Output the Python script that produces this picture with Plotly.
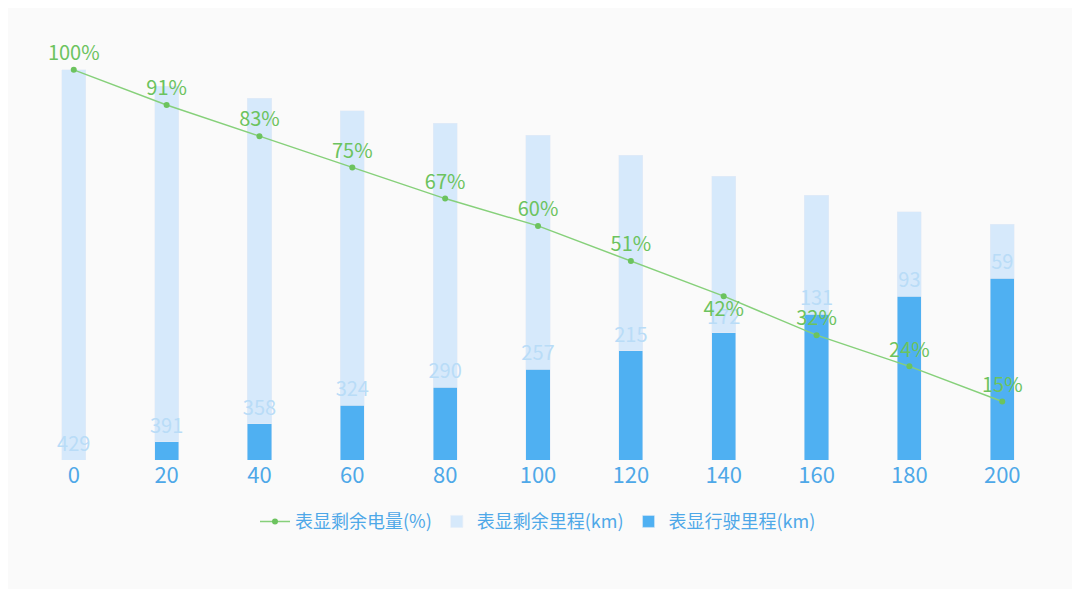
import plotly.graph_objects as go

# 表显行驶里程分段
mileage = [0, 20, 40, 60, 80, 100, 120, 140, 160, 180, 200]
remaining_km = [429, 391, 358, 324, 290, 257, 215, 172, 131, 93, 59]
driven_km = [0, 20, 40, 60, 80, 100, 120, 140, 160, 180, 200]
battery_pct = [100, 91, 83, 75, 67, 60, 51, 42, 32, 24, 15]
pct_pos = ["top center"] * 7 + ["bottom center"] + ["top center"] * 3

cats = [str(m) for m in mileage]

fig = go.Figure()
fig.add_trace(go.Bar(
    x=cats, y=driven_km, name="表显行驶里程(km)",
    marker_color="#4fb0f2", width=0.26,
))
fig.add_trace(go.Bar(
    x=cats, y=remaining_km, name="表显剩余里程(km)",
    marker_color="#d6e9fb", width=0.26,
    text=remaining_km, textposition="inside", insidetextanchor="start",
    constraintext="none", cliponaxis=False,
    textfont=dict(color="#b9dcf7", size=20), textangle=0,
))
fig.add_trace(go.Scatter(
    x=cats, y=battery_pct, name="表显剩余电量(%)", yaxis="y2",
    mode="lines+markers+text", line=dict(color="#86d07a", width=1.5),
    marker=dict(color="#6cc35e", size=6),
    text=[f"{p}%" for p in battery_pct], textposition=pct_pos,
    textfont=dict(color="#6cc35e", size=20), cliponaxis=False,
))

fig.update_layout(
    width=1080, height=589, barmode="stack",
    paper_bgcolor="#fafafa", plot_bgcolor="#fafafa",
    font=dict(family="Noto Sans CJK SC", size=18),
    margin=dict(l=10, r=30, t=20, b=137),
    uniformtext=dict(minsize=18, mode="show"),
    xaxis=dict(tickfont=dict(color="#4ea8e8", size=22), showline=False, ticks=""),
    yaxis=dict(range=[0, 475], visible=False),
    yaxis2=dict(range=[0, 475 / 429 * 100], overlaying="y", visible=False),
    legend=dict(orientation="h", x=0.5, xanchor="center", y=-0.1, yanchor="top",
                traceorder="reversed", font=dict(color="#4ea8e8", size=18)),
    showlegend=True,
)
fig.write_html("out.html")
